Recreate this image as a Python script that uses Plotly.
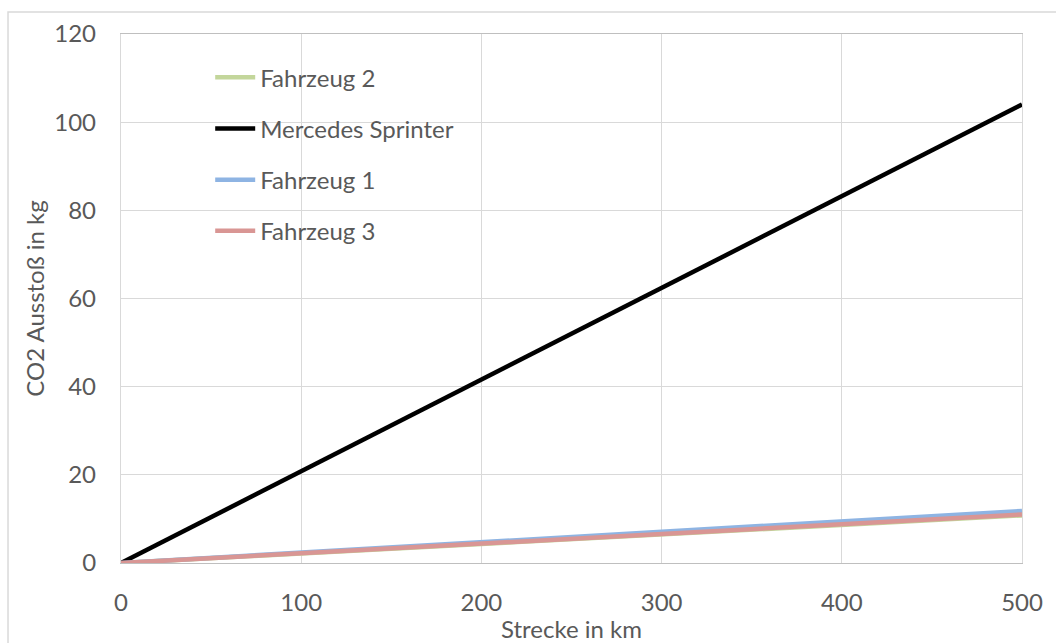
import plotly.graph_objects as go

strecke = [0, 100, 200, 300, 400, 500]
fahrzeug2 = [0, 2.16, 4.32, 6.48, 8.64, 10.8]
mercedes = [0, 20.8, 41.6, 62.4, 83.2, 104.0]
fahrzeug1 = [0, 2.36, 4.72, 7.08, 9.44, 11.8]
fahrzeug3 = [0, 2.2, 4.4, 6.6, 8.8, 11.0]

series = [
    ("Fahrzeug 2", fahrzeug2, "#C3D69B"),
    ("Mercedes Sprinter", mercedes, "#000000"),
    ("Fahrzeug 1", fahrzeug1, "#8EB4E3"),
    ("Fahrzeug 3", fahrzeug3, "#D99694"),
]

FONT = "Lato"
FS = 24
fig = go.Figure()
for i, (name, vals, col) in enumerate(series):
    fig.add_trace(go.Scatter(x=strecke, y=vals, name=name, mode="lines",
                             line=dict(color=col, width=4.5),
                             legendgroup=f"g{i}"))

fig.update_layout(
    width=1056, height=643,
    paper_bgcolor="white", plot_bgcolor="white",
    margin=dict(l=121, r=34, t=34, b=80),
    font=dict(family=FONT, size=FS, color="#595959"),
    showlegend=True,
    legend=dict(x=0.099, y=0.96, xanchor="left", yanchor="top",
                bgcolor="rgba(0,0,0,0)", font=dict(size=FS, color="#595959"),
                traceorder="grouped", tracegroupgap=17, itemwidth=40),
    xaxis=dict(range=[0, 500], tickvals=[0, 100, 200, 300, 400, 500],
               showgrid=True, gridcolor="#D9D9D9", gridwidth=1.3,
               showline=True, linecolor="#BFBFBF", linewidth=1.3, mirror=True,
               zeroline=False, ticks="", ticklabelstandoff=18, automargin=False,
               title=dict(text="Strecke in km", standoff=6,
                          font=dict(size=FS, color="#595959"))),
    yaxis=dict(range=[0, 120], tickvals=[0, 20, 40, 60, 80, 100, 120],
               showgrid=True, gridcolor="#D9D9D9", gridwidth=1.3,
               showline=True, linecolor="#D9D9D9", linewidth=1.3, mirror=True,
               zeroline=False, ticks="", ticklabelstandoff=19, automargin=False,
               title=dict(text="CO2 Ausstoß in kg", standoff=2,
                          font=dict(size=FS, color="#595959"))),
    shapes=[dict(type="rect", xref="paper", yref="paper",
                 x0=-0.1254, x1=1.5, y0=-0.5, y1=1.0416,
                 line=dict(color="#D9D9D9", width=1.5), layer="below")],
)

fig.write_html("out.html")
